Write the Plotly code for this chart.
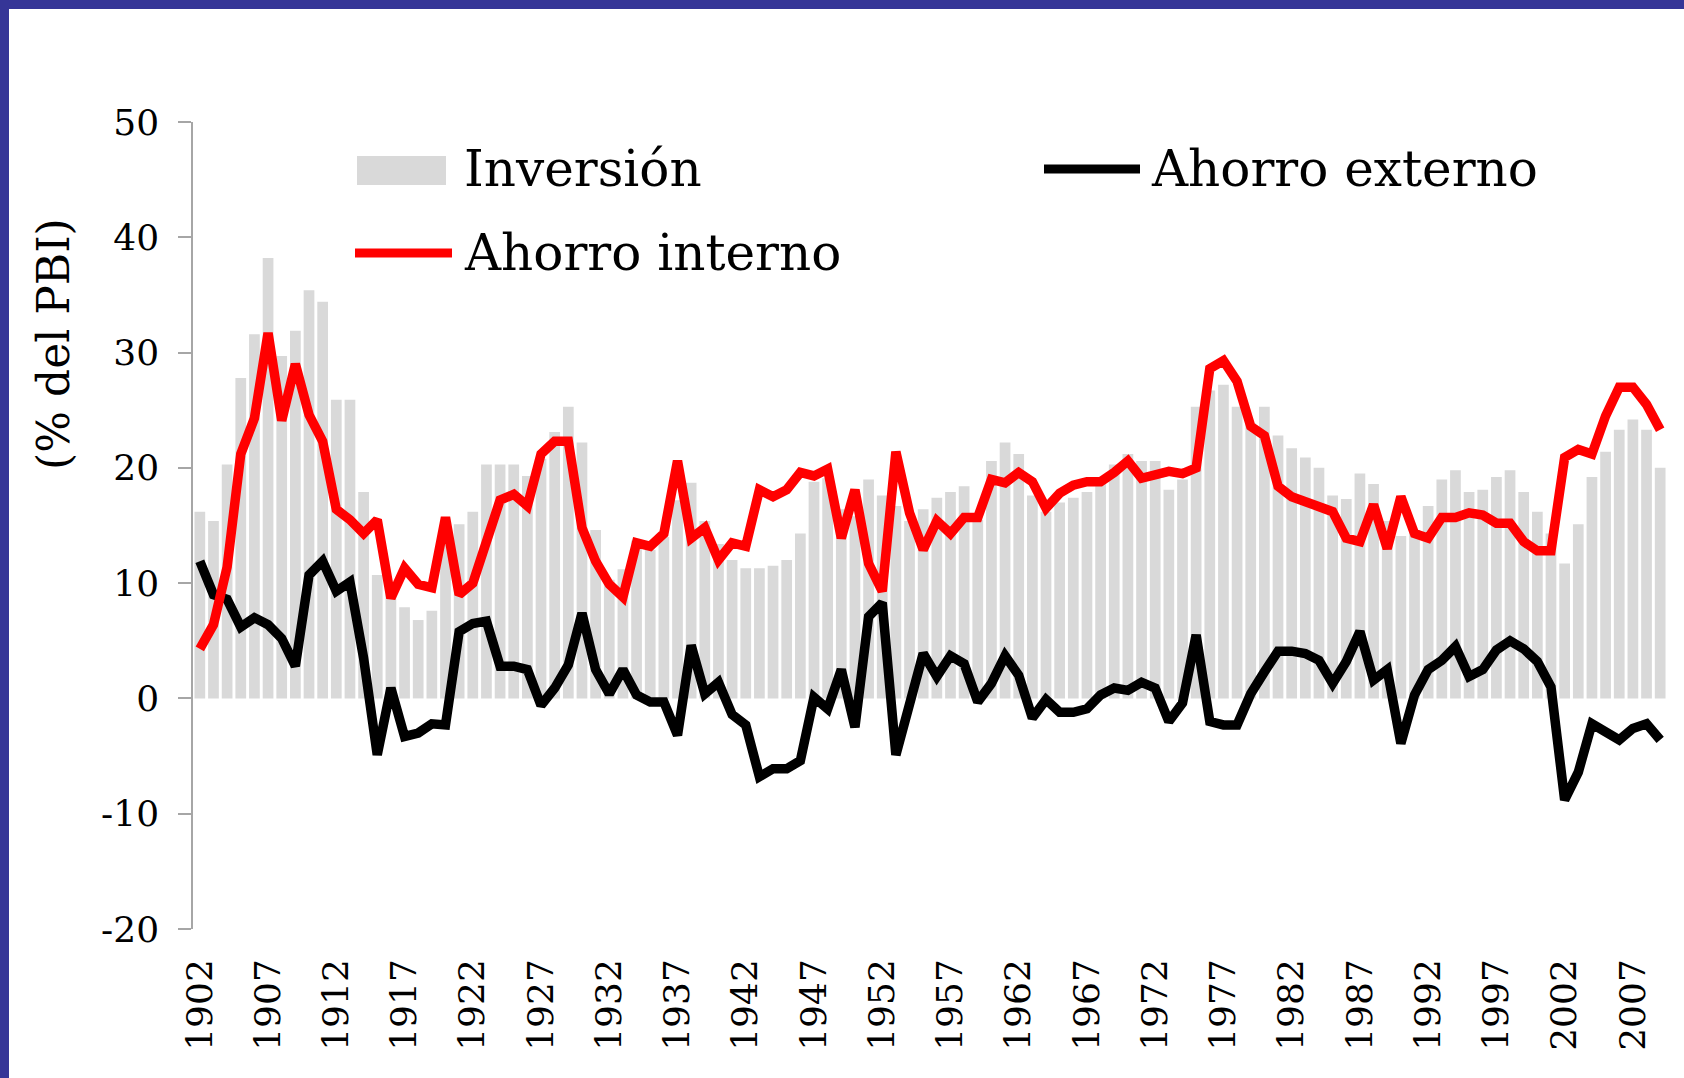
import plotly.graph_objects as go

years = list(range(1902, 2010))

inversion = [
    16.2, 15.4, 20.3, 27.8, 31.6, 38.2, 29.7, 31.9, 35.4, 34.4,   # 1902-1911
    25.9, 25.9, 17.9, 10.7, 9.4, 7.9, 6.8, 7.6, 13.8, 15.1,       # 1912-1921
    16.2, 20.3, 20.3, 20.3, 19.3, 20.8, 23.1, 25.3, 22.2, 14.6,   # 1922-1931
    10.3, 11.2, 13.7, 12.9, 14.0, 17.2, 18.7, 15.4, 13.4, 12.0,   # 1932-1941
    11.3, 11.3, 11.5, 12.0, 14.3, 18.8, 19.1, 16.4, 15.8, 19.0,   # 1942-1951
    17.6, 16.7, 15.4, 16.4, 17.4, 17.9, 18.4, 15.5, 20.6, 22.2,   # 1952-1961
    21.2, 17.6, 16.2, 17.0, 17.4, 17.9, 19.0, 20.3, 21.2, 20.6,   # 1962-1971
    20.6, 18.1, 19.0, 25.3, 26.7, 27.2, 25.3, 23.9, 25.3, 22.8,   # 1972-1981
    21.7, 20.9, 20.0, 17.6, 17.3, 19.5, 18.6, 15.4, 14.1, 14.6,   # 1982-1991
    16.7, 19.0, 19.8, 17.9, 18.1, 19.2, 19.8, 17.9, 16.2, 14.3,   # 1992-2001
    11.7, 15.1, 19.2, 21.4, 23.3, 24.2, 23.3, 20.0,               # 2002-2009
]

ahorro_interno = [
    4.3, 6.4, 11.4, 21.2, 24.3, 31.7, 24.1, 29.0, 24.6, 22.3,
    16.4, 15.5, 14.3, 15.5, 8.7, 11.3, 9.9, 9.6, 15.7, 9.0,
    10.0, 13.5, 17.2, 17.7, 16.7, 21.2, 22.3, 22.3, 14.8, 11.9,
    9.9, 8.8, 13.5, 13.2, 14.3, 20.6, 13.9, 14.8, 12.0, 13.5,
    13.2, 18.1, 17.5, 18.1, 19.6, 19.3, 19.9, 13.9, 18.1, 11.7,
    9.3, 21.4, 16.1, 12.9, 15.4, 14.3, 15.7, 15.7, 19.0, 18.7,
    19.6, 18.8, 16.5, 17.8, 18.5, 18.8, 18.8, 19.6, 20.6, 19.1,
    19.4, 19.7, 19.5, 20.0, 28.6, 29.3, 27.5, 23.6, 22.8, 18.4,
    17.5, 17.1, 16.8, 16.2, 13.9, 13.6, 16.8, 13.0, 17.5, 14.3,
    13.9, 15.7, 15.7, 16.1, 15.9, 15.2, 15.2, 13.6, 12.8, 12.8,
    20.9, 21.6, 21.2, 24.5, 27.0, 27.0, 25.5, 23.3,
]

ahorro_externo = [
    11.9, 9.0, 8.6, 6.2, 7.0, 6.4, 5.2, 2.8, 10.7, 11.9,
    9.3, 10.1, 3.5, -4.9, 0.9, -3.3, -3.0, -2.2, -2.3, 5.8,
    6.5, 6.7, 2.8, 2.8, 2.5, -0.6, 0.9, 2.9, 7.4, 2.5,
    0.4, 2.5, 0.3, -0.3, -0.3, -3.2, 4.6, 0.4, 1.4, -1.4,
    -2.3, -6.8, -6.1, -6.1, -5.4, 0.1, -0.9, 2.5, -2.5, 7.1,
    8.3, -4.9, -0.5, 3.9, 1.9, 3.7, 3.0, -0.3, 1.3, 3.7,
    2.0, -1.7, -0.1, -1.2, -1.2, -0.9, 0.3, 0.9, 0.7, 1.4,
    0.9, -2.0, -0.4, 5.5, -2.0, -2.3, -2.3, 0.4, 2.3, 4.1,
    4.1, 3.9, 3.3, 1.3, 3.2, 5.8, 1.6, 2.5, -3.9, 0.3,
    2.5, 3.3, 4.5, 1.9, 2.5, 4.2, 5.0, 4.3, 3.2, 1.0,
    -8.8, -6.4, -2.2, -3.0, -3.6, -2.6, -2.2, -3.6,
]

year_labels = [str(y) for y in range(1902, 2008, 5)]
y_ticks = [-20, -10, 0, 10, 20, 30, 40, 50]
y_tick_labels = ["-20", "-10", "0", "10", "20", "30", "40", "50"]
series_names = ["Inversión", "Ahorro externo", "Ahorro interno"]
y_title = "(% del PBI)"

GRAY_BAR = "#d9d9d9"
FONT = "DejaVu Serif"
LINE_W = 9.5

fig = go.Figure()
fig.add_trace(go.Bar(x=years, y=inversion, name=series_names[0],
                     marker=dict(color=GRAY_BAR, line=dict(width=0)),
                     showlegend=False))
fig.add_trace(go.Scatter(x=years, y=ahorro_externo, name=series_names[1],
                         mode="lines", line=dict(color="black", width=LINE_W),
                         showlegend=False))
fig.add_trace(go.Scatter(x=years, y=ahorro_interno, name=series_names[2],
                         mode="lines", line=dict(color="#ff0000", width=LINE_W),
                         showlegend=False))

# plot area in pixels
L, R, T, B = 193, 1667, 122, 929
W, H = 1684, 1078
def px(xp):
    return (xp - L) / (R - L)
def py(yp):
    return (B - yp) / (B - T)

zero_pos = (0 - (-20)) / 70.0

fig.update_layout(
    width=W, height=H,
    margin=dict(l=L, r=W - R, t=T, b=H - B, pad=0),
    paper_bgcolor="white", plot_bgcolor="white",
    font=dict(family=FONT, color="black", size=36),
    bargap=0.215,
    showlegend=False,
    xaxis=dict(
        range=[1901.5, 2009.5], showgrid=False, zeroline=False,
        showline=False, ticks="",
        tickmode="array", tickvals=list(range(1902, 2008, 5)), ticktext=year_labels,
        tickangle=-90, tickfont=dict(size=36, family=FONT),
        ticklabelstandoff=22,
    ),
    xaxis2=dict(
        range=[1901.5, 2009.5], overlaying="x", anchor="free", position=zero_pos,
        showgrid=False, zeroline=False, showline=True, linecolor="#595959", linewidth=1.5,
        ticks="outside", ticklen=13, tickwidth=1.5, tickcolor="#595959",
        tickmode="array", tickvals=[1901.5 + 5 * k for k in range(22)],
        showticklabels=False, layer="below traces",
    ),
    yaxis=dict(
        range=[-20, 50], showgrid=False, zeroline=False,
        showline=True, linecolor="#a6a6a6", linewidth=1.5,
        ticks="outside", ticklen=13, tickwidth=1.5, tickcolor="#a6a6a6",
        tickmode="array", tickvals=y_ticks, ticktext=y_tick_labels,
        tickfont=dict(size=36, family=FONT), ticklabelstandoff=12,
    ),
)

shapes = [
    # outer blue frame (top and left)
    dict(type="rect", xref="paper", yref="paper", x0=px(0), x1=px(W), y0=py(0), y1=py(9),
         fillcolor="#353597", line=dict(width=0), layer="above"),
    dict(type="rect", xref="paper", yref="paper", x0=px(0), x1=px(9), y0=py(H), y1=py(0),
         fillcolor="#353597", line=dict(width=0), layer="above"),
    # legend symbols
    dict(type="rect", xref="paper", yref="paper", x0=px(357), x1=px(446), y0=py(185), y1=py(156),
         fillcolor=GRAY_BAR, line=dict(width=0)),
    dict(type="line", xref="paper", yref="paper", x0=px(355), x1=px(452), y0=py(253), y1=py(253),
         line=dict(color="#ff0000", width=9)),
    dict(type="line", xref="paper", yref="paper", x0=px(1044), x1=px(1140), y0=py(169), y1=py(169),
         line=dict(color="black", width=9)),
]
annotations = [
    dict(text=series_names[0], xref="paper", yref="paper", x=px(462), y=py(169),
         xanchor="left", yanchor="middle", showarrow=False, font=dict(size=50, family=FONT)),
    dict(text=series_names[2], xref="paper", yref="paper", x=px(462), y=py(253),
         xanchor="left", yanchor="middle", showarrow=False, font=dict(size=50, family=FONT)),
    dict(text=series_names[1], xref="paper", yref="paper", x=px(1149), y=py(169),
         xanchor="left", yanchor="middle", showarrow=False, font=dict(size=50, family=FONT)),
    dict(text=y_title, xref="paper", yref="paper", x=px(53), y=py(344), textangle=-90,
         xanchor="center", yanchor="middle", showarrow=False, font=dict(size=44, family=FONT)),
]
fig.update_layout(shapes=shapes, annotations=annotations)

fig.write_html("out.html", include_plotlyjs=True, config={"displayModeBar": False},
               post_script="document.body.style.margin='0';document.body.style.overflow='hidden';")
